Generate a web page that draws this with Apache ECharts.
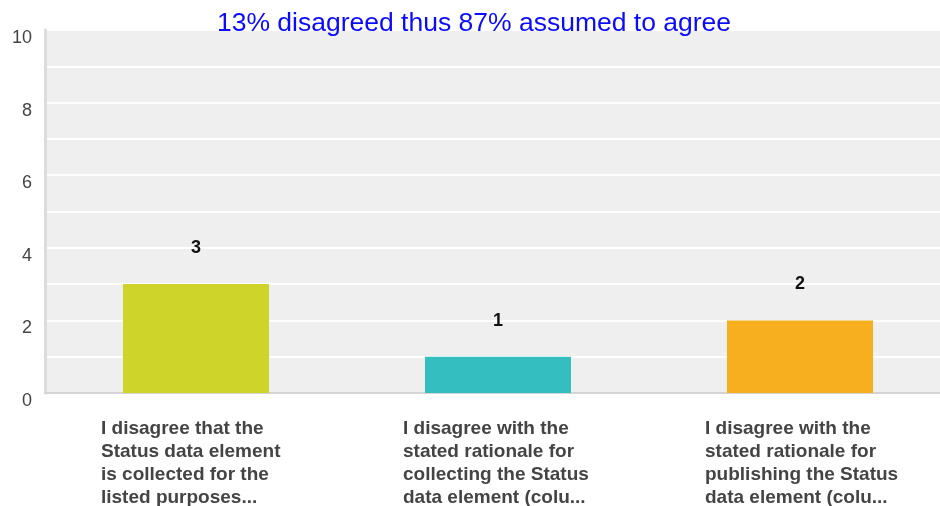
<!DOCTYPE html>
<html>
<head>
<meta charset="utf-8">
<script src="https://cdn.jsdelivr.net/npm/echarts@6/dist/echarts.min.js"></script>
<style>
  html, body { margin: 0; padding: 0; background: #fff; }
  #chart { width: 940px; height: 506px; }
</style>
</head>
<body>
<div id="chart"></div>
<script>
// chart data
const categories = [
  "I disagree that the\nStatus data element\nis collected for the\nlisted purposes...",
  "I disagree with the\nstated rationale for\ncollecting the Status\ndata element (colu...",
  "I disagree with the\nstated rationale for\npublishing the Status\ndata element (colu..."
];
const counts = [3, 1, 2];
const barColors = ["#cfd42a", "#35bec0", "#f7af1f"];
const titleText = "13% disagreed thus 87% assumed to agree";

const chart = echarts.init(document.getElementById("chart"));

chart.setOption({
  animation: false,
  backgroundColor: "#fff",
  textStyle: { fontFamily: "Liberation Sans, Arial, sans-serif" },
  title: {
    text: titleText,
    left: 469,
    top: 5,
    textAlign: "center",
    textStyle: { color: "#0b0bff", fontSize: 26.5, fontWeight: "normal" }
  },
  grid: {
    left: 45,
    top: 30,
    width: 906,
    height: 363,
    outerBoundsMode: "none",
    containLabel: false,
    show: true,
    backgroundColor: "#efefef",
    borderWidth: 0
  },
  xAxis: {
    type: "category",
    data: categories,
    axisTick: { show: false },
    axisLine: { lineStyle: { color: "#d4d4d4", width: 2 } },
    axisLabel: {
      interval: 0,
      margin: 24,
      formatter: (v) => v.split("\n").map((l) => "{a|" + l + "}").join("\n"),
      rich: {
        a: {
          width: 190,
          align: "left",
          fontSize: 19,
          lineHeight: 23,
          fontWeight: "bold",
          color: "#444"
        }
      }
    }
  },
  yAxis: {
    type: "value",
    min: 0,
    max: 10,
    interval: 1,
    axisLine: { show: true, lineStyle: { color: "#dcdcdc", width: 3 } },
    axisTick: { show: false },
    splitLine: { lineStyle: { color: "#ffffff", width: 2 } },
    axisLabel: {
      margin: 13,
      fontSize: 18,
      color: "#444",
      verticalAlign: "top",
      lineHeight: 16,
      formatter: (v) => (v % 2 === 0 ? String(v) : "")
    }
  },
  series: [
    {
      type: "bar",
      barWidth: 146,
      data: counts.map((v, i) => ({ value: v, itemStyle: { color: barColors[i] } })),
      label: {
        show: true,
        position: "top",
        distance: 27,
        fontSize: 18,
        fontWeight: "bold",
        color: "#111"
      }
    }
  ]
});
</script>
</body>
</html>
